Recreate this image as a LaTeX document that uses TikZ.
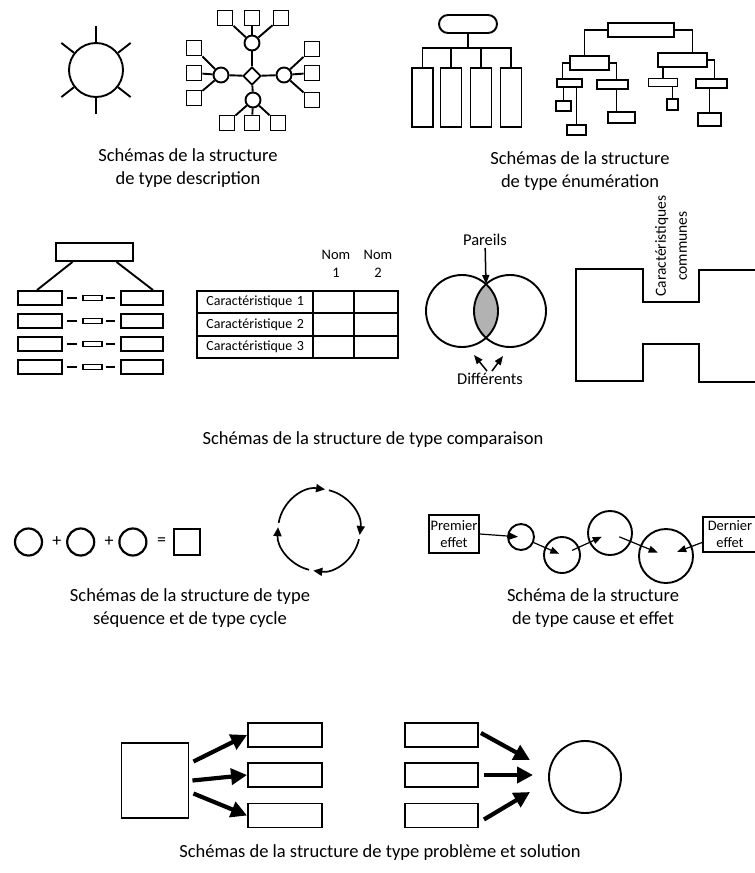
\documentclass[tikz,border=0pt]{standalone}
\usepackage{fontspec}
\setmainfont{Carlito}
\usetikzlibrary{arrows.meta,positioning,shapes.geometric,calc}

\tikzset{
  box/.style={draw, line width=1.9pt, rectangle, inner sep=0pt},
  ring/.style={draw, line width=1.9pt, circle, inner sep=0pt},
  link/.style={line width=1.9pt},
  sz/.style 2 args={minimum width=#1pt, minimum height=#2pt},
  caption/.style={align=center, font=\fontsize{18.5}{23}\selectfont},
  lbl/.style={align=center, inner sep=2pt, font=\fontsize{16.5}{19}\selectfont},
  hdr/.style={align=center, inner sep=1pt, font=\fontsize{14.5}{18}\selectfont},
  cell/.style={draw, line width=1.7pt, minimum height=22.3pt, inner sep=0pt,
    font=\fontsize{14}{16}\selectfont},
  op/.style={inner sep=0pt, font=\fontsize{18}{20}\selectfont},
  tip/.style={line width=1.5pt, -{Triangle[length=9pt,width=7pt]}},
  roundarrow/.style={line width=1.7pt, -{Triangle[length=9pt,width=8pt]}},
  fat/.style={line width=4.2pt, -{Triangle[length=16pt,width=16pt]}},
}

\begin{document}
\begin{tikzpicture}[x=1pt, y=1pt]
\useasboundingbox (0,0) rectangle (755,-873);

% description : sun
 \node[ring, minimum size=54pt] (sun) at (96,-70) {};
 \foreach \a in {90,38,142,218,270,322}
   \draw[link] (sun.\a) -- ++(\a:16);

% description : network
 \node[diamond, draw, line width=1.9pt, minimum size=18pt, inner sep=0pt] (core) at (252,-76) {};
 \node[ring, minimum size=15pt] (ht) at (252,-43) {};
 \node[ring, minimum size=15pt] (hl) at (221,-75) {};
 \node[ring, minimum size=15pt] (hr) at (284,-75) {};
 \node[ring, minimum size=15pt] (hb) at (253,-100) {};
 \foreach \n/\x/\y in {t1/225/18, t2/252/18, t3/281/18,
                       l1/194/48, l2/194/73, l3/194/98,
                       r1/312/49, r2/312/73, r3/312/100,
                       b1/227/123, b2/252/123, b3/278/123}
   \node[box, minimum size=15pt] (sq\n) at (\x,-\y) {};
 \foreach \h in {ht,hl,hr,hb}
   \draw[link] (core) -- (\h);
 \foreach \n in {1,2,3} {
   \draw[link] (ht) -- (sqt\n);
   \draw[link] (hl) -- (sql\n);
   \draw[link] (hr) -- (sqr\n);
   \draw[link] (hb) -- (sqb\n);
 }
 \node[caption] (capdesc) at (188,-168) {Schémas de la structure\\de type description};

% enumeration : comb
 \node[box, sz={58}{18}, rounded corners=9pt] (head) at (468,-24) {};
 \coordinate (bar) at (468,-48);
 \foreach \i/\x in {1/422.5, 2/451, 3/481, 4/511}
   \node[box, sz={21}{59}] (col\i) at (\x,-97.5) {};
 \draw[link] (head) -- (bar);
 \foreach \i in {1,...,4}
   \draw[link] (bar) -| (col\i.north);

% enumeration : tree
 \node[box, sz={66}{14}] (t0) at (641,-30) {};
 \node[box, sz={39}{14}] (t1) at (589.5,-63) {};
 \node[box, sz={49}{14}] (t2) at (682.5,-60) {};
 \node[box, sz={25}{8}] (t11) at (569.5,-83) {};
 \node[box, sz={31}{9}] (t12) at (612.5,-84.5) {};
 \node[box, sz={29}{8}] (t21) at (663,-82.5) {};
 \node[box, sz={31}{9}] (t22) at (711.5,-83.5) {};
 \node[box, sz={15}{10}] (t111) at (563.5,-106) {};
 \node[box, sz={19}{10}] (t112) at (576.5,-130) {};
 \node[box, sz={27}{11}] (t121) at (621.5,-117.5) {};
 \node[box, sz={11}{11}] (t211) at (672.5,-104.5) {};
 \node[box, sz={23}{13}] (t221) at (709.5,-119.5) {};
 \draw[link] (t0.west) -| ([xshift=-5pt]t1.north);
 \draw[link] (t0.east) -| ([xshift=10pt]t2.north);
 \draw[link] (t1.west) -| ([xshift=-7pt]t11.north);
 \draw[link] (t1.east) -| ([xshift=4pt]t12.north);
 \draw[link] (t2.east) -| ([xshift=3pt]t22.north);
 \draw[link] (t21.north) -- (t21.north |- t2.south);
 \draw[link] (t111.north) -- (t111.north |- t11.south);
 \draw[link] (t112.north) -- (t112.north |- t11.south);
 \draw[link] ([xshift=-5pt]t121.north) -- ([xshift=-5pt]t121.north |- t12.south);
 \draw[link] (t211.north) -- (t211.north |- t21.south);
 \draw[link] (t221.north) -- (t221.north |- t22.south);
 \node[caption] (capenum) at (580,-171) {Schémas de la structure\\de type énumération};

% comparison : ladder
 \node[box, sz={77}{18}] (top) at (94.5,-252) {};
 \foreach \r/\y in {1/298, 2/321, 3/344, 4/367} {
   \node[box, sz={44}{14}] (left\r) at (40,-\y) {};
   \node[box, sz={19}{5}] (mid\r) at (92.5,-\y) {};
   \node[box, sz={42}{14}] (right\r) at (142,-\y) {};
   \draw[link, shorten <=4pt, shorten >=5pt] (left\r) -- (mid\r);
   \draw[link, shorten <=3pt, shorten >=5pt] (mid\r) -- (right\r);
 }
 \draw[link] ([xshift=-22pt]top.south) -- ([xshift=-3pt]left1.north);
 \draw[link] ([xshift=22pt]top.south) -- ([xshift=11pt]right1.north);

% comparison : table
 \foreach \r/\y in {1/302, 2/324.5, 3/347} {
   \node[cell, minimum width=116pt, text width=98pt, inner xsep=9pt, align=right] (feat\r) at (255,-\y) {Caractéristique \r};
   \node[cell, minimum width=41pt] (na\r) at (333.5,-\y) {};
   \node[cell, minimum width=44pt] (nb\r) at (376,-\y) {};
 }
 \node[hdr] (nom1) at (336,-264) {Nom\\1};
 \node[hdr] (nom2) at (378,-264) {Nom\\2};

% comparison : venn
 \coordinate (vlc) at (462,-311);
 \coordinate (vrc) at (510,-311);
 \begin{scope}
   \clip (vlc) circle (36);
   \fill[black!30] (vrc) circle (36);
 \end{scope}
 \node[ring, minimum size=72pt] (vl) at (vlc) {};
 \node[ring, minimum size=72pt] (vr) at (vrc) {};
 \node[lbl] (same) at (485,-240) {Pareils};
 \coordinate (vtop) at (486,-284);
 \draw[tip] (same) -- (vtop);
 \node[lbl] (diff) at (490,-379) {Différents};
 \coordinate (dl) at (474,-355);
 \coordinate (dr) at (503,-356);
 \draw[tip] ([xshift=-3pt]diff.north) -- (dl);
 \draw[tip] ([xshift=2pt]diff.north) -- (dr);

% comparison : H
 \draw[link] (757,-270) -- (699,-270) -- (699,-302) -- (643,-302) -- (643,-269)
   -- (576,-269) -- (576,-381) -- (643,-381) -- (643,-344) -- (699,-344)
   -- (699,-382) -- (757,-382);
 \node[hdr, rotate=90, font=\fontsize{15.5}{21}\selectfont] (common) at (671,-246) {Caractéristiques\\communes};
 \node[caption] (capcomp) at (373,-440) {Schémas de la structure de type comparaison};

% sequence
 \node[ring, line width=2.2pt, minimum size=27pt] (s1) at (28.5,-542) {};
 \node[ring, line width=2.2pt, minimum size=27pt, right=23pt of s1] (s2) {};
 \node[ring, line width=2.2pt, minimum size=27pt, right=23pt of s2] (s3) {};
 \node[box, line width=2.2pt, minimum size=26pt, right=25.5pt of s3] (total) {};
 \node[op] (plus1) at ($(s1.east)!0.6!(s2.west)$) {+};
 \node[op] (plus2) at ($(s2.east)!0.6!(s3.west)$) {+};
 \node[op] (equal) at ($(s3.east)!0.55!(total.west)$) {=};

% cycle
 \coordinate (cyc) at (319,-530);
 \foreach \a/\b in {76/-7, -13/-98, -104/-184, 170/81.5}
   \draw[roundarrow] ([shift={(\a:41)}]cyc) arc[start angle=\a, end angle=\b, radius=41];
 \node[caption] (capseq) at (190,-608) {Schémas de la structure de type\\séquence et de type cycle};

% cause and effect
 \node[box, sz={50}{38}, hdr, font=\fontsize{14.5}{17}\selectfont] (first) at (454,-534) {Premier\\effet};
 \node[ring, minimum size=26pt] (c1) at (521,-537) {};
 \node[ring, minimum size=36pt] (c2) at (562,-555) {};
 \node[ring, minimum size=44pt] (c3) at (610,-533) {};
 \node[ring, minimum size=54pt] (c4) at (666,-556) {};
 \node[box, sz={54}{35}, hdr, font=\fontsize{14.5}{17}\selectfont] (last) at (730,-534.5) {Dernier\\effet};
 \draw[tip, line width=1.2pt, shorten >=3pt] (first.east) -- (c1.center);
 \draw[tip, line width=1.2pt, shorten >=3pt] (c1) -- (c2.center);
 \draw[tip, line width=1.2pt, shorten <=11pt, shorten >=9pt] (c2.center) -- (c3.center);
 \draw[tip, line width=1.2pt, shorten <=10pt, shorten >=9pt] (c3.center) -- (c4.center);
 \draw[tip, line width=1.2pt, shorten >=12pt] ([yshift=-8pt]last.west) -- (c4.center);
 \node[caption] (capcause) at (593,-608) {Schéma de la structure\\de type cause et effet};

% problem and solution
 \node[box, sz={67}{75}] (pb) at (155,-780.5) {};
 \node[ring, minimum size=72pt] (sol) at (585,-777) {};
 \foreach \r/\y in {1/735, 2/775, 3/815.5} {
   \node[box, sz={74}{24}] (way\r) at (285,-\y) {};
   \node[box, sz={73}{24}] (idea\r) at (441.5,-\y) {};
 }
 \coordinate (in1) at (530,-760);
 \coordinate (in2) at (533,-775);
 \coordinate (in3) at (530,-792);
 \draw[fat] ([shift={(4pt,19pt)}]pb.east) -- (way1.west);
 \draw[fat] ([xshift=3pt]pb.east) -- (way2.west);
 \draw[fat] ([shift={(4pt,-13pt)}]pb.east) -- (way3.west);
 \draw[fat] ([shift={(2pt,2pt)}]idea1.east) -- (in1);
 \draw[fat] ([xshift=5pt]idea2.east) -- (in2);
 \draw[fat] ([shift={(5pt,-4pt)}]idea3.east) -- (in3);
 \node[caption] (capprob) at (380,-853) {Schémas de la structure de type problème et solution};
\end{tikzpicture}
\end{document}
